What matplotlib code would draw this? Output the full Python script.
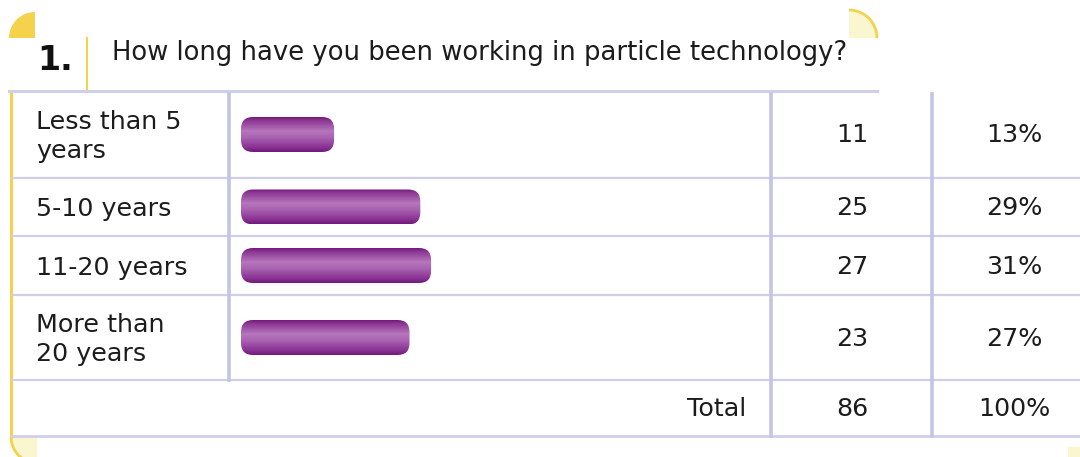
import numpy as np
import matplotlib
matplotlib.use('Agg')
import matplotlib.pyplot as plt
from matplotlib.patches import FancyBboxPatch, Wedge, Arc
from matplotlib.colors import LinearSegmentedColormap

# data
question_no = "1."
question = "How long have you been working in particle technology?"
categories = ["Less than 5\nyears", "5-10 years", "11-20 years", "More than\n20 years"]
counts = [11, 25, 27, 23]
percents = [13, 29, 31, 27]
total_label = "Total"
total_count = 86
total_pct = 100

# layout (pixels)
W, H = 1080, 457
row_edges = [91, 178, 236, 295, 380, 436]
col_x = [229, 771, 932]
bar_x0, bar_h = 241, 35
px_per_pct, bar_cap = 5.39, 23

yellow = '#f4d24c'
pale = '#faf6d0'
lav = '#cfcfea'
lav_v = '#c4c4e4'
txt = '#1c1c1c'
fs = 18.3

fig = plt.figure(figsize=(W / 100, H / 100), dpi=100)
ax = fig.add_axes([0, 0, 1, 1])
ax.set_xlim(0, W); ax.set_ylim(H, 0)
ax.axis('off')

# yellow corners
ax.add_patch(Wedge((35, 38), 26, 180, 270, facecolor=yellow, edgecolor='none'))
ax.add_patch(Wedge((849, 38), 28, 270, 360, facecolor=pale, edgecolor='none'))
ax.add_patch(Arc((849, 38), 56, 56, theta1=270, theta2=360, color=yellow, lw=2))
ax.add_patch(Wedge((37, 437), 26, 90, 180, facecolor=pale, edgecolor='none'))
ax.add_patch(Arc((37, 437), 52, 52, theta1=90, theta2=180, color=yellow, lw=2))
ax.add_patch(Wedge((1068, 447), 26, 0, 90, facecolor=pale, edgecolor='none'))
ax.plot([87, 87], [38, 91], color=yellow, lw=1.5)
ax.plot([11, 11], [91, 437], color=yellow, lw=2.2)

# header
ax.text(37, 61, question_no, fontsize=24, fontweight='bold', color='#111111', va='center', ha='left')
ax.text(112, 53, question, fontsize=18.6, color=txt, va='center', ha='left')

# grid lines
ax.plot([9, 877], [row_edges[0]] * 2, color=lav, lw=2.2)
for y in row_edges[1:-1]:
    ax.plot([12, W], [y, y], color=lav, lw=1.6)
ax.plot([12, W], [row_edges[-1]] * 2, color=lav, lw=2.0)
ax.plot([col_x[0]] * 2, [94, row_edges[4]], color=lav_v, lw=2.6)
for x in col_x[1:]:
    ax.plot([x, x], [94, row_edges[-1]], color=lav_v, lw=2.6)

# bar gradient
cmap = LinearSegmentedColormap.from_list('bar', [
    (0.0, '#74197c'), (0.1, '#8c3893'), (0.4, '#b676bd'),
    (0.58, '#aa64b1'), (0.88, '#883092'), (1.0, '#721a7b')])
grad = np.linspace(0, 1, 64).reshape(-1, 1)

for i, (cat, n, p) in enumerate(zip(categories, counts, percents)):
    y0, y1 = row_edges[i], row_edges[i + 1]
    yc = (y0 + y1) / 2
    ax.text(36, yc + 2, cat, fontsize=fs, color=txt, va='center', ha='left', linespacing=1.3)
    w = bar_cap + p * px_per_pct
    patch = FancyBboxPatch((bar_x0, yc - bar_h / 2), w, bar_h,
                           boxstyle='round,pad=0,rounding_size=12',
                           facecolor='none', edgecolor='none')
    ax.add_patch(patch)
    im = ax.imshow(grad, cmap=cmap, aspect='auto', interpolation='bilinear',
                   extent=(bar_x0, bar_x0 + w, yc + bar_h / 2, yc - bar_h / 2))
    im.set_clip_path(patch)
    ax.text(852, yc + 1, str(n), fontsize=fs, color=txt, va='center', ha='center')
    ax.text(1014, yc + 1, f"{p}%", fontsize=fs, color=txt, va='center', ha='center')

yc = (row_edges[4] + row_edges[5]) / 2
ax.text(746, yc + 1, total_label, fontsize=fs, color=txt, va='center', ha='right')
ax.text(852, yc + 1, str(total_count), fontsize=fs, color=txt, va='center', ha='center')
ax.text(1014, yc + 1, f"{total_pct}%", fontsize=fs, color=txt, va='center', ha='center')

ax.set_xlim(0, W); ax.set_ylim(H, 0)
fig.savefig('out.png', dpi=100)
